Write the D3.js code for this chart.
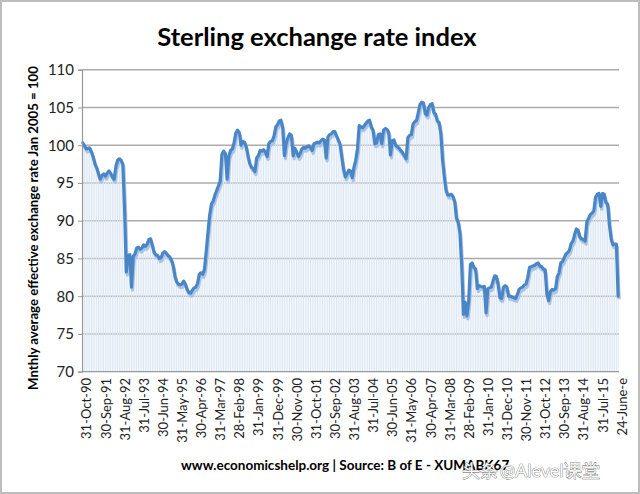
<!DOCTYPE html>
<html>
<head>
<meta charset="utf-8">
<script src="https://cdn.jsdelivr.net/npm/d3@7"></script>
<style>
  html, body { margin: 0; padding: 0; background: #fff; }
  svg { display: block; }
  text { font-family: Lato, "Open Sans", sans-serif; }
</style>
</head>
<body>
<svg id="chart" width="640" height="494"></svg>
<script>
// Monthly sterling ERI (Jan 2005 = 100), Oct 1990 .. Jun 2016 (309 points)
const values = [
  // 1990 Oct-Dec
  100.3, 99.9, 99.5,
  // 1991
  99.6, 99.6, 99.1, 98.4, 97.5, 97.0, 96.2, 95.5, 96.0, 96.2, 95.9, 96.3,
  // 1992
  96.6, 96.3, 95.8, 95.5, 97.2, 98.0, 98.2, 98.0, 97.5, 91.5, 83.2, 85.4,
  // 1993
  85.5, 81.2, 85.3, 85.6, 86.4, 86.5, 86.2, 86.4, 86.8, 86.6, 86.9, 87.5,
  // 1994
  87.6, 86.7, 85.8, 85.5, 85.4, 85.0, 85.1, 85.7, 85.9, 85.7, 85.4, 85.2,
  // 1995
  84.8, 84.0, 82.6, 81.9, 81.6, 81.5, 81.6, 82.0, 81.6, 80.9, 80.5, 80.4,
  // 1996
  80.8, 81.1, 81.2, 81.7, 82.9, 83.1, 82.9, 83.6, 86.0, 88.5, 90.8, 92.2,
  // 1997
  92.6, 93.4, 94.0, 94.6, 95.2, 98.8, 99.2, 98.9, 95.5, 98.6, 99.3, 99.5,
  // 1998
  100.3, 101.6, 102.0, 101.7, 100.0, 100.5, 100.4, 99.8, 98.6, 97.6, 97.1, 96.9,
  // 1999
  96.5, 98.3, 98.6, 99.3, 99.2, 99.4, 99.1, 98.5, 100.2, 100.5, 100.6, 101.2,
  // 2000
  102.4, 102.7, 103.2, 103.3, 102.3, 98.6, 100.3, 101.0, 101.5, 101.3, 98.6, 99.6,
  // 2001
  99.1, 98.5, 98.9, 99.5, 99.7, 99.6, 99.8, 99.9, 99.7, 99.3, 100.2, 100.3,
  // 2002
  100.4, 100.3, 100.6, 100.8, 100.7, 98.3, 101.1, 101.4, 101.5, 101.8, 101.8, 101.2,
  // 2003
  100.7, 100.1, 98.4, 96.8, 95.8, 96.2, 96.7, 96.6, 95.7, 97.1, 98.0, 99.5,
  // 2004
  102.6, 102.4, 102.3, 102.6, 102.9, 103.2, 103.3, 102.4, 102.0, 100.2, 100.3, 101.4,
  // 2005
  101.5, 100.2, 102.0, 102.2, 102.1, 101.7, 98.7, 100.6, 100.7, 100.0, 99.8, 99.6,
  // 2006
  99.3, 99.0, 98.6, 98.2, 101.0, 101.3, 101.4, 102.8, 103.1, 103.3, 104.3, 105.4,
  // 2007
  105.7, 105.6, 104.2, 104.0, 105.0, 105.4, 105.5, 104.3, 104.1, 103.2, 103.0, 101.5,
  // 2008
  98.0, 95.8, 94.0, 93.4, 93.4, 93.5, 93.2, 92.5, 90.3, 89.8, 88.3, 84.0,
  // 2009
  77.6, 79.2, 77.4, 79.3, 84.2, 84.4, 83.8, 83.6, 81.0, 81.4, 81.3, 81.2,
  // 2010
  81.3, 77.8, 81.0, 81.1, 81.2, 82.0, 82.7, 82.6, 81.5, 79.8, 79.7, 81.2,
  // 2011
  81.4, 81.2, 80.0, 80.0, 79.9, 79.8, 79.7, 80.2, 80.9, 81.1, 81.2, 81.5,
  // 2012
  81.6, 82.5, 83.8, 83.9, 84.0, 84.1, 84.3, 84.4, 84.0, 83.9, 83.6, 83.5,
  // 2013
  80.3, 79.4, 80.6, 80.9, 80.8, 81.0, 82.6, 83.1, 84.4, 84.6, 85.1, 85.6,
  // 2014
  85.8, 86.1, 87.0, 87.3, 88.2, 88.9, 88.7, 87.8, 87.6, 87.5, 87.3, 89.8,
  // 2015
  90.3, 90.8, 91.0, 91.3, 93.1, 93.5, 93.6, 91.9, 93.6, 93.5, 92.4, 92.2,
  // 2016 Jan-Jun
  89.4, 87.6, 86.8, 86.9, 86.9, 80.0
];

const tickLabels = [
  "31-Oct-90","30-Sep-91","31-Aug-92","31-Jul-93","30-Jun-94","31-May-95",
  "30-Apr-96","31-Mar-97","28-Feb-98","31-Jan-99","31-Dec-99","30-Nov-00",
  "31-Oct-01","30-Sep-02","31-Aug-03","31-Jul-04","30-Jun-05","31-May-06",
  "30-Apr-07","31-Mar-08","28-Feb-09","31-Jan-10","31-Dec-10","30-Nov-11",
  "31-Oct-12","30-Sep-13","31-Aug-14","31-Jul-15","24-June-e"
];
const tickEvery = 11;
const yTicks = [70, 75, 80, 85, 90, 95, 100, 105, 110];

const titleText = "Sterling exchange rate index";
const yTitle = "Mnthly average effective exchange rate  Jan 2005 = 100";
const sourceText = "www.economicshelp.org | Source: B of E - XUMABK67";

const svg = d3.select("#chart");
const W = 640, H = 494;
const m = { left: 82, right: 619, top: 69.7, bottom: 371.7 };

// border
svg.append("rect").attr("x", 1).attr("y", 1).attr("width", W - 2).attr("height", H - 2)
  .attr("fill", "#fff").attr("stroke", "#bdbdbd").attr("stroke-width", 2);

const idx = d3.range(values.length);
const x = d3.scaleBand().domain(idx).range([m.left, m.right]).padding(0);
const y = d3.scaleLinear().domain([70, 110]).range([m.bottom, m.top]);
const cx = i => x(i) + x.bandwidth() / 2;

// gridlines
svg.append("g").selectAll("line").data(yTicks.filter(t => t > 70)).join("line")
  .attr("x1", m.left).attr("x2", m.right)
  .attr("y1", d => y(d)).attr("y2", d => y(d))
  .attr("stroke", "#ababab").attr("stroke-width", 1.5);

// striped area (per-month columns)
svg.append("g").selectAll("rect").data(idx).join("rect")
  .attr("x", i => x(i) + 0.25)
  .attr("width", x.bandwidth() - 0.7)
  .attr("y", i => y(values[i]))
  .attr("height", i => y(70) - y(values[i]))
  .attr("fill", "#dbe6f3");

// shadow line
const line = d3.line().x((d, i) => cx(i)).y(d => y(d)).curve(d3.curveLinear);
svg.append("path").datum(values).attr("d", line)
  .attr("fill", "none").attr("stroke", "#a9c4e6").attr("stroke-width", 3.2)
  .attr("stroke-linejoin", "round").attr("transform", "translate(1,3)");
// main line
svg.append("path").datum(values).attr("d", line)
  .attr("fill", "none").attr("stroke", "#4a86c6").attr("stroke-width", 3.2)
  .attr("stroke-linejoin", "round").attr("stroke-linecap", "round");

// y axis
const yAxis = d3.axisLeft(y).tickValues(yTicks).tickSize(4).tickPadding(4);
const gy = svg.append("g").attr("transform", `translate(${m.left},0)`).call(yAxis);
gy.select(".domain").attr("stroke", "#999").attr("stroke-width", 1.2);
gy.selectAll(".tick line").attr("stroke", "#999");
gy.selectAll(".tick text").attr("font-size", 15).attr("fill", "#222")
  .attr("font-family", "Lato, sans-serif");

// x axis baseline
svg.append("line").attr("x1", m.left).attr("x2", m.right)
  .attr("y1", m.bottom).attr("y2", m.bottom)
  .attr("stroke", "#999").attr("stroke-width", 1.2);

// x tick labels
svg.append("g").selectAll("text").data(tickLabels).join("text")
  .attr("transform", (d, k) => `translate(${cx(k * tickEvery) + 4},378) rotate(-90)`)
  .attr("text-anchor", "end").attr("dy", "0.35em")
  .attr("font-size", 13).attr("fill", "#222").text(d => d);

// title
svg.append("text").attr("x", 317).attr("y", 46).attr("text-anchor", "middle")
  .attr("font-size", 25.5).attr("font-weight", "bold").attr("fill", "#000").text(titleText);

// y title
svg.append("text").attr("transform", "translate(38,228) rotate(-90)")
  .attr("text-anchor", "middle").attr("font-size", 13.2).attr("font-weight", "bold")
  .attr("fill", "#000").text(yTitle);

// source
svg.append("text").attr("x", 181).attr("y", 470)
  .attr("font-size", 13.5).attr("font-weight", "bold").attr("fill", "#000").text(sourceText);

// watermark
const wm = svg.append("g").attr("font-family", "'Noto Sans CJK SC', sans-serif")
  .attr("font-size", 18).attr("fill", "#fff").attr("stroke", "#555").attr("stroke-width", 0.7)
  .attr("paint-order", "stroke");
wm.append("text").attr("x", 462).attr("y", 477).text("头条");
wm.append("text").attr("x", 500).attr("y", 477).text("@Alevel课堂");
</script>
</body>
</html>
